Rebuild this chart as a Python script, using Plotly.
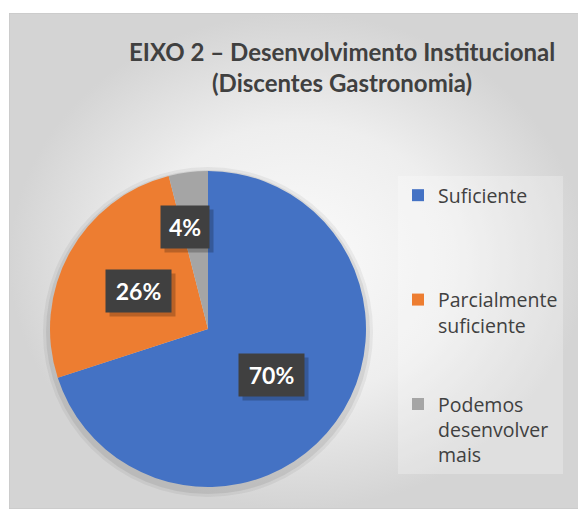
import math
import plotly.graph_objects as go

# chart data
categories = ["Suficiente", "Parcialmente suficiente", "Podemos desenvolver mais"]
legend_labels = ["Suficiente<br> <br> <br> ",
                 "Parcialmente<br>suficiente<br> <br> ",
                 "Podemos<br>desenvolver<br>mais"]
values = [70, 26, 4]
colors = ["#4472C4", "#ED7D31", "#A5A5A5"]
title = "EIXO 2 – Desenvolvimento Institucional<br>(Discentes Gastronomia)"

# the page puts the plot 8px in from the top-left corner, so size it to fit the window
OFF = 8
W, H = 586 - OFF, 509 - OFF
FONT = "Lato, Carlito, Calibri, 'Open Sans', sans-serif"
LFONT = "'Open Sans', Lato, sans-serif"
R = 158                         # pie radius in px
cx, cy = 208 - OFF, 329 - OFF   # pie centre in px (from top-left of the plot)


def pie_domain(r, dy=0):
    return dict(x=[(cx - r) / W, (cx + r) / W],
                y=[1 - (cy + dy + r) / H, 1 - (cy + dy - r) / H])


fig = go.Figure()

# gradient chart-area background (Excel style)
fig.add_trace(go.Scatter(
    x=[0, 1, 1, 0, 0], y=[0, 0, 1, 1, 0], mode="lines", fill="toself",
    line=dict(width=1, color="#c4c4c4"),
    fillgradient=dict(type="radial",
                      colorscale=[[0, "#fbfbfb"], [0.55, "#eeeeee"], [1, "#d4d4d4"]]),
    hoverinfo="skip", showlegend=False))

# soft shadow under the pie
for r_extra, alpha in [(7, 0.05), (4, 0.07)]:
    fig.add_trace(go.Pie(
        labels=["shadow"], values=[1], sort=False, showlegend=False,
        marker=dict(colors=["rgba(0,0,0,%s)" % alpha], line=dict(width=0)),
        textinfo="none", hoverinfo="skip", domain=pie_domain(R + r_extra, 3)))

fig.add_trace(go.Pie(
    labels=legend_labels, values=values, sort=False, direction="clockwise",
    marker=dict(colors=colors, line=dict(width=0)),
    textinfo="none", hoverinfo="skip",
    domain=pie_domain(R)))

# percentage labels in dark boxes, placed at each slice's mid angle
total = sum(values)
radial_frac = [0.50, 0.50, 0.65]
label_dx = [0, 0, -10]
ann = []
acc = 0
for v, f, ddx in zip(values, radial_frac, label_dx):
    mid = (acc + v / 2) / total * 2 * math.pi
    acc += v
    px = cx + f * R * math.sin(mid) + ddx
    py = cy - f * R * math.cos(mid)
    pct = "%d%%" % round(100 * v / total)
    common = dict(x=px / W, y=1 - py / H, xref="paper", yref="paper", showarrow=False,
                  xanchor="center", yanchor="middle",
                  width=17 * len(pct) + 14, height=42, borderpad=0)
    ann.append(dict(common, text=" ", bgcolor="rgba(0,0,0,0.22)", xshift=4, yshift=-4,
                    font=dict(family=FONT, size=23)))
    ann.append(dict(common, text="<b>%s</b>" % pct, bgcolor="#404040",
                    font=dict(family=FONT, size=23, color="#ffffff")))

ann.append(dict(x=(342 - OFF) / W, y=1 - (67 - OFF) / H, xref="paper", yref="paper",
                showarrow=False, xanchor="center", yanchor="middle",
                text="<b>%s</b>" % title, align="center",
                font=dict(family=FONT, size=24, color="#404040")))

fig.update_layout(
    width=W, height=H,
    margin=dict(l=0, r=0, t=0, b=0),
    paper_bgcolor="white", plot_bgcolor="rgba(0,0,0,0)",
    xaxis=dict(domain=[1 / W, 1], range=[0, 1], visible=False, fixedrange=True),
    yaxis=dict(domain=[0, 1 - 5 / H], range=[0, 1], visible=False, fixedrange=True),
    annotations=ann,
    legend=dict(x=(398 - OFF) / W, xanchor="left", y=1 - (176 - OFF) / H, yanchor="top",
                valign="top", bgcolor="rgba(255,255,255,0.25)",
                font=dict(family=LFONT, size=19.5, color="#404040")),
    showlegend=True,
)

fig.write_html("out.html")
